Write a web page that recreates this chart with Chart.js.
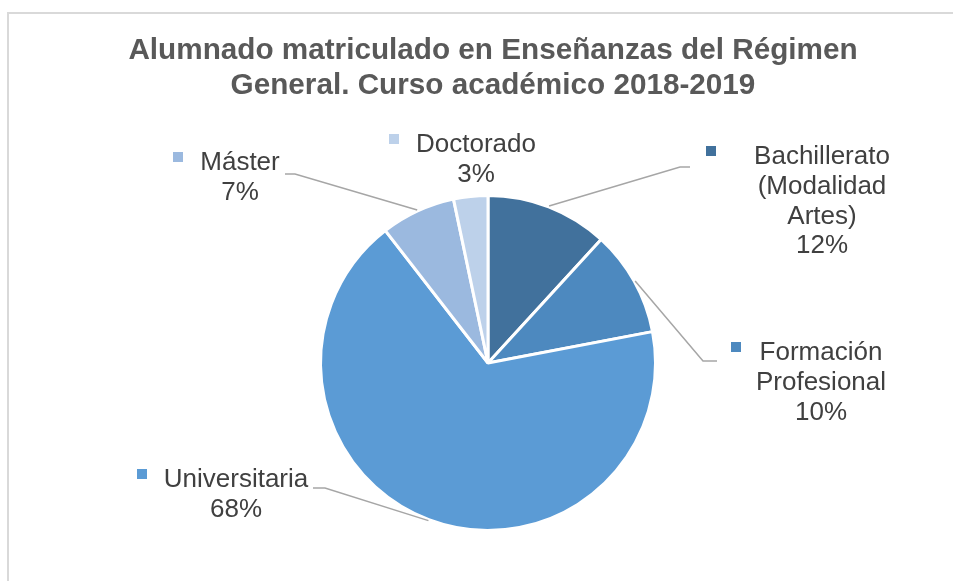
<!DOCTYPE html>
<html>
<head>
<meta charset="utf-8">
<script src="https://cdn.jsdelivr.net/npm/chart.js@4/dist/chart.umd.min.js"></script>
<style>
    body { margin: 0; background: #fff; }
    #chart { display: block; }
</style>
</head>
<body>
<canvas id="chart" width="953" height="581"></canvas>
<script>
const categories = ['Bachillerato (Modalidad Artes)', 'Formación Profesional', 'Universitaria', 'Máster', 'Doctorado'];
const labelLines = [['Bachillerato', '(Modalidad', 'Artes)'], ['Formación', 'Profesional'], ['Universitaria'], ['Máster'], ['Doctorado']];
const shares = [11.8, 10.2, 67.5, 7.2, 3.3];
const colors = ['#41719C', '#4D89BF', '#5B9BD5', '#9BB9DF', '#BDD1EA'];
const titleLines = ['Alumnado matriculado en Enseñanzas del Régimen', 'General. Curso académico 2018-2019'];

const FONT = "'Liberation Sans', Arial, sans-serif";

// where each label sits (text centre x, first line y, marker x) and the elbow of its leader line
const labelPos = [
    { x: 822, y: 157, mx: 711, elbow: [[680, 167], [690, 167]] },
    { x: 821, y: 353, mx: 736, elbow: [[703, 361], [717, 361]] },
    { x: 236, y: 480, mx: 142, elbow: [[325, 488], [313, 488]] },
    { x: 240, y: 163, mx: 178, elbow: [[295, 174], [285, 174]] },
    { x: 476, y: 145, mx: 394, elbow: null }
];

const framePlugin = {
    id: 'frame',
    beforeDraw(chart) {
        const ctx = chart.ctx;
        ctx.save();
        ctx.fillStyle = '#fff';
        ctx.fillRect(0, 0, chart.width, chart.height);
        ctx.strokeStyle = '#D9D9D9';
        ctx.lineWidth = 2;
        ctx.beginPath();
        ctx.moveTo(8, chart.height);
        ctx.lineTo(8, 13);
        ctx.lineTo(chart.width, 13);
        ctx.stroke();

        ctx.fillStyle = '#595959';
        ctx.font = 'bold 29.7px ' + FONT;
        ctx.textAlign = 'center';
        ctx.textBaseline = 'middle';
        titleLines.forEach((t, i) => ctx.fillText(t, 493, 51 + i * 35));
        ctx.restore();
    }
};

const labelPlugin = {
    id: 'sliceLabels',
    afterDatasetsDraw(chart) {
        const ctx = chart.ctx;
        const meta = chart.getDatasetMeta(0);
        ctx.save();
        meta.data.forEach((arc, i) => {
            const p = labelPos[i];
            const mid = (arc.startAngle + arc.endAngle) / 2;
            if (p.elbow) {
                const ax = arc.x + Math.cos(mid) * (arc.outerRadius + 1);
                const ay = arc.y + Math.sin(mid) * (arc.outerRadius + 1);
                ctx.strokeStyle = '#A6A6A6';
                ctx.lineWidth = 1.5;
                ctx.beginPath();
                ctx.moveTo(ax, ay);
                p.elbow.forEach(pt => ctx.lineTo(pt[0], pt[1]));
                ctx.stroke();
            }
            const lines = labelLines[i].concat([Math.round(shares[i]) + '%']);
            ctx.fillStyle = colors[i];
            ctx.fillRect(p.mx - 5, p.y - 11, 10, 10);
            ctx.fillStyle = '#404040';
            ctx.font = '26px ' + FONT;
            ctx.textAlign = 'center';
            ctx.textBaseline = 'middle';
            lines.forEach((t, j) => ctx.fillText(t, p.x, p.y + j * 29.7));
        });
        ctx.restore();
    }
};

new Chart(document.getElementById('chart'), {
    type: 'pie',
    data: {
        labels: categories,
        datasets: [{
            data: shares,
            backgroundColor: colors,
            borderColor: '#fff',
            borderWidth: 3
        }]
    },
    options: {
        responsive: false,
        animation: false,
        devicePixelRatio: 1,
        layout: { padding: { left: 319, right: 296, top: 194, bottom: 49 } },
        plugins: {
            legend: { display: false },
            tooltip: { enabled: false },
            title: { display: false }
        }
    },
    plugins: [framePlugin, labelPlugin]
});
</script>
</body>
</html>
